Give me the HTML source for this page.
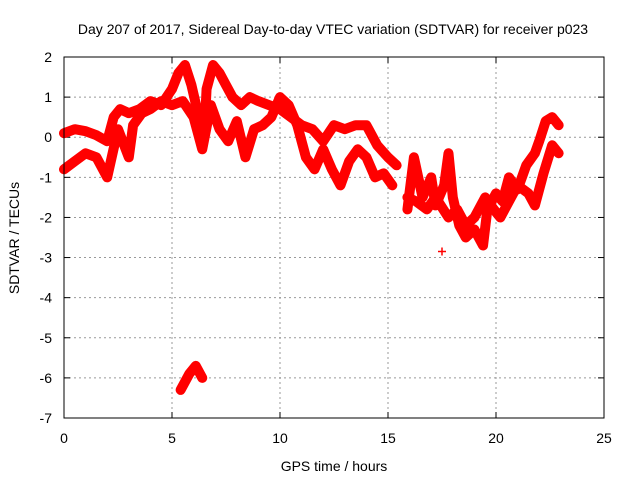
<!DOCTYPE html>
<html><head><meta charset="utf-8"><style>
body{margin:0;background:#fff}
svg{display:block;font-family:"Liberation Sans",sans-serif}
</style></head><body>
<svg id="chart" width="640" height="480">
<rect width="640" height="480" fill="#fff"/>
<text x="333" y="34" font-size="14" text-anchor="middle">Day 207 of 2017, Sidereal Day-to-day VTEC variation (SDTVAR) for receiver p023</text>
<text x="334" y="471" font-size="14" text-anchor="middle">GPS time / hours</text>
<text transform="translate(19,238) rotate(-90)" font-size="14" text-anchor="middle">SDTVAR / TECUs</text>
<g id="grid"></g><g id="marks"></g>
<rect x="64" y="57" width="540" height="361" fill="none" stroke="#000"/>
</svg>
<script>
const xTicks=[0,5,10,15,20,25];
const yTicks=[2,1,0,-1,-2,-3,-4,-5,-6,-7];
const trackA_x=[0,0.5,1,1.5,2,2.3,2.6,3,3.5,4,4.5,5,5.3,5.6,5.9,6.2,6.5,6.6,6.9,7.2,7.5,7.8,8.2,8.6,9,9.5,10,10.5,11,11.5,12,12.5,13,13.5,14,14.5,15,15.4];
const trackA_y=[0.1,0.2,0.15,0.05,-0.1,0.5,0.7,0.6,0.7,0.9,0.8,1.2,1.6,1.8,1.3,0.6,0.1,1.2,1.8,1.6,1.3,1.0,0.8,1.0,0.9,0.8,0.7,0.5,0.3,0.2,-0.1,0.3,0.2,0.3,0.3,-0.2,-0.5,-0.7];
const trackB_x=[0,0.5,1,1.5,2,2.5,3,3.2,3.6,4,4.5,5,5.5,6,6.4,6.8,7.2,7.6,8,8.4,8.8,9.2,9.6,10,10.4,10.8,11.2,11.6,12,12.4,12.8,13.2,13.6,14,14.4,14.8,15.2];
const trackB_y=[-0.8,-0.6,-0.4,-0.5,-1.0,0.2,-0.5,0.3,0.6,0.7,0.9,0.8,0.9,0.5,-0.3,0.8,0.2,-0.1,0.4,-0.5,0.2,0.3,0.5,1.0,0.8,0.3,-0.5,-0.8,-0.3,-0.8,-1.2,-0.6,-0.3,-0.5,-1.0,-0.9,-1.2];
const trackC_x=[15.9,16.2,16.6,17,17.2,17.6,17.8,18,18.3,18.6,19,19.4,19.6,20,20.3,20.6,21,21.4,21.8,22,22.3,22.6,22.9];
const trackC_y=[-1.8,-0.5,-1.5,-1.0,-1.7,-1.2,-0.4,-1.5,-2.2,-2.5,-2.3,-2.7,-1.8,-1.4,-1.6,-1.0,-1.3,-0.7,-0.4,-0.1,0.4,0.5,0.3];
const trackD_x=[15.9,16.3,16.8,17.2,17.8,18.2,18.6,19,19.5,19.9,20.2,20.6,21,21.5,21.8,22.2,22.6,22.9];
const trackD_y=[-1.5,-1.6,-1.8,-1.5,-2.0,-1.8,-2.2,-2.0,-1.5,-1.8,-2.0,-1.6,-1.2,-1.4,-1.7,-0.9,-0.2,-0.4];
const trackE_x=[5.4,5.8,6.1,6.4];
const trackE_y=[-6.3,-5.9,-5.7,-6.0];
const single_x=[17.5];
const single_y=[-2.85];
const NS="http://www.w3.org/2000/svg";
const sx=v=>64+v*21.6, sy=v=>57+(2-v)*40.111;
const grid=document.getElementById('grid'), marks=document.getElementById('marks');
function mk(t,a,p){const e=document.createElementNS(NS,t);for(const k in a)e.setAttribute(k,a[k]);p.appendChild(e);return e;}
xTicks.forEach(t=>{
 const x=sx(t);
 if(t>0&&t<25){const g=mk('line',{x1:x,x2:x,y1:57,y2:418,stroke:'#999','stroke-dasharray':'2,3'},grid);
 
 }
 mk('line',{x1:x,x2:x,y1:418,y2:412,stroke:'#000'},grid);
 mk('line',{x1:x,x2:x,y1:57,y2:63,stroke:'#000'},grid);
 const l=mk('text',{x:x,y:443,'font-size':14,'text-anchor':'middle'},grid);l.textContent=t;
 
 
});
yTicks.forEach(t=>{
 const y=sy(t);
 if(t<2&&t>-7){const g=mk('line',{x1:64,x2:604,y1:y,y2:y,stroke:'#999','stroke-dasharray':'2,3'},grid);
 
 }
 mk('line',{x1:64,x2:70,y1:y,y2:y,stroke:'#000'},grid);
 mk('line',{x1:598,x2:604,y1:y,y2:y,stroke:'#000'},grid);
 const l=mk('text',{x:52,y:y+5,'font-size':14,'text-anchor':'end'},grid);l.textContent=t;
 
 
});
function track(xs,ys,name){
 const g=mk('g',{},marks);
 
 
 if(xs.length>1){mk('polyline',{points:xs.map((x,i)=>sx(x)+','+sy(ys[i])).join(' '),fill:'none',stroke:'#f00','stroke-width':10,'stroke-linejoin':'round','stroke-linecap':'round'},g);}
 xs.forEach((x,i)=>{const X=sx(x),Y=sy(ys[i]);
  const p=mk('path',{d:`M${X-4},${Y}h8M${X},${Y-4}v8`,stroke:'#f00','stroke-width':1.5},g);
  
  });
}
track(trackA_x,trackA_y,'series-track-a');
track(trackB_x,trackB_y,'series-track-b');
track(trackC_x,trackC_y,'series-track-c');
track(trackD_x,trackD_y,'series-track-d');
track(trackE_x,trackE_y,'series-track-e');
track(single_x,single_y,'series-outlier');
</script>
</body></html>
